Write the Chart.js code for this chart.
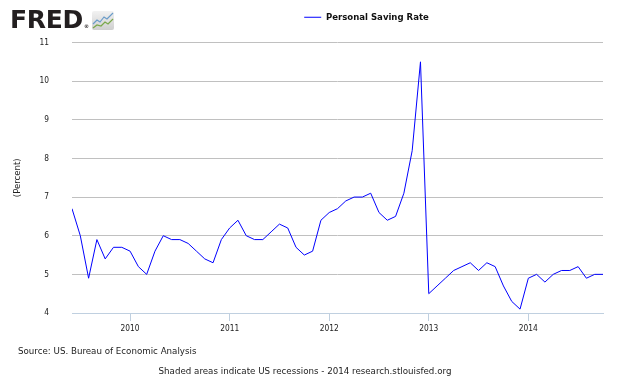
<!DOCTYPE html>
<html>
<head>
<meta charset="utf-8">
<title>Personal Saving Rate</title>
<script src="https://cdn.jsdelivr.net/npm/chart.js@4/dist/chart.umd.min.js"></script>
<style>
  body { margin: 0; background: #fff; }
  #wrap { position: relative; width: 630px; height: 378px; font-family: "DejaVu Sans", sans-serif; }
  #chart { position: absolute; left: 0; top: 0; }
  #logo { position: absolute; left: 10px; top: 5px; font-family: "DejaVu Sans", sans-serif; font-weight: bold; font-size: 25px; color: #231f20; letter-spacing: -0.3px; }
  #logo sup { font-size: 5px; vertical-align: baseline; margin-left: 1px; }
  #icon { position: absolute; left: 92px; top: 11px; }
  #source { position: absolute; left: 18px; top: 346px; font-size: 8.7px; color: #222; }
  #note { position: absolute; left: 0; width: 610px; top: 366px; text-align: center; font-size: 8.7px; color: #222; }
</style>
</head>
<body>
<div id="wrap">
  <canvas id="chart" width="630" height="378"></canvas>
  <div id="logo">FRED<sup>®</sup></div>
  <svg id="icon" width="22" height="19" viewBox="0 0 22 19">
    <defs>
      <linearGradient id="g" x1="0" y1="0" x2="0" y2="1">
        <stop offset="0" stop-color="#f2f2f2"/>
        <stop offset="1" stop-color="#cfcfcf"/>
      </linearGradient>
    </defs>
    <rect x="0" y="0" width="22" height="19" rx="2" fill="url(#g)"/>
    <polyline points="1,13 5,9 8,11 12,6 15,8 21,2" fill="none" stroke="#6a9cc9" stroke-width="1.2"/>
    <polyline points="1,17 5,14 9,15 13,11 16,13 21,8" fill="none" stroke="#7aa84a" stroke-width="1.2"/>
  </svg>
  <div id="source">Source: US. Bureau of Economic Analysis</div>
  <div id="note">Shaded areas indicate US recessions - 2014 research.stlouisfed.org</div>
</div>
<script>
(function() {
  'use strict';
  // 月（2009-06 〜 2014-10）
  const months = [
    '2009-06', '2009-07', '2009-08', '2009-09', '2009-10', '2009-11', '2009-12',
    '2010-01', '2010-02', '2010-03', '2010-04', '2010-05', '2010-06',
    '2010-07', '2010-08', '2010-09', '2010-10', '2010-11', '2010-12',
    '2011-01', '2011-02', '2011-03', '2011-04', '2011-05', '2011-06',
    '2011-07', '2011-08', '2011-09', '2011-10', '2011-11', '2011-12',
    '2012-01', '2012-02', '2012-03', '2012-04', '2012-05', '2012-06',
    '2012-07', '2012-08', '2012-09', '2012-10', '2012-11', '2012-12',
    '2013-01', '2013-02', '2013-03', '2013-04', '2013-05', '2013-06',
    '2013-07', '2013-08', '2013-09', '2013-10', '2013-11', '2013-12',
    '2014-01', '2014-02', '2014-03', '2014-04', '2014-05', '2014-06',
    '2014-07', '2014-08', '2014-09', '2014-10'
  ];
  // 個人貯蓄率 (%)
  const savingRate = [
    6.7, 6.0, 4.9, 5.9, 5.4, 5.7, 5.7,
    5.6, 5.2, 5.0, 5.6, 6.0, 5.9,
    5.9, 5.8, 5.6, 5.4, 5.3, 5.9,
    6.2, 6.4, 6.0, 5.9, 5.9, 6.1,
    6.3, 6.2, 5.7, 5.5, 5.6, 6.4,
    6.6, 6.7, 6.9, 7.0, 7.0, 7.1,
    6.6, 6.4, 6.5, 7.1, 8.2, 10.5,
    4.5, 4.7, 4.9, 5.1, 5.2, 5.3,
    5.1, 5.3, 5.2, 4.7, 4.3, 4.1,
    4.9, 5.0, 4.8, 5.0, 5.1, 5.1,
    5.2, 4.9, 5.0, 5.0
  ];
  // 目盛り
  const yearTicks = [2010, 2011, 2012, 2013, 2014];
  const yTicks = [4, 5, 6, 7, 8, 9, 10, 11];

  // "YYYY-MM" を小数の年に変換
  function toYear(label) {
    const parts = label.split('-');
    return Number(parts[0]) + (Number(parts[1]) - 1) / 12;
  }

  const points = months.map(function(m, i) {
    return { x: toYear(m), y: savingRate[i] };
  });

  const fontFamily = '"DejaVu Sans Condensed", "DejaVu Sans", sans-serif';
  const tickFont = { family: fontFamily, size: 8.3 };

  // 凡例の位置を調整
  const legendShift = {
    id: 'legendShift',
    afterLayout(chart) {
      const lg = chart.legend;
      lg.left += 65;
      lg.right += 65;
      lg.top -= 10.5;
      lg.bottom -= 10.5;
    }
  };

  new Chart(document.getElementById('chart').getContext('2d'), {
    type: 'line',
    data: {
      datasets: [{
        label: 'Personal Saving Rate',
        data: points,
        borderColor: '#0000ff',
        backgroundColor: '#0000ff',
        borderWidth: 1,
        pointRadius: 0,
        tension: 0,
      }],
    },
    options: {
      responsive: false,
      animation: false,
      layout: { padding: { left: 0, right: 27, top: 13, bottom: 35 } },
      plugins: {
        legend: {
          position: 'top',
          labels: {
            usePointStyle: true,
            pointStyle: 'line',
            pointStyleWidth: 17,
            padding: 10,
            color: '#111',
            font: { family: fontFamily, size: 9.5, weight: 'bold' },
          },
        },
        tooltip: { enabled: false },
      },
      scales: {
        x: {
          type: 'linear',
          min: toYear(months[0]),
          max: toYear(months[months.length - 1]),
          afterBuildTicks: function(scale) {
            scale.ticks = yearTicks.map(function(v) { return { value: v }; });
          },
          afterFit: function(scale) { scale.height = 30; },
          grid: { drawOnChartArea: false, drawTicks: true, tickLength: 8, color: '#c0d0e0' },
          border: { color: '#c0d0e0' },
          ticks: { color: '#222', font: tickFont, padding: 3, maxRotation: 0,
            callback: function(v) { return String(v); } },
        },
        y: {
          min: 4,
          max: 11,
          afterBuildTicks: function(scale) {
            scale.ticks = yTicks.map(function(v) { return { value: v }; });
          },
          afterFit: function(scale) { scale.width = 72; },
          grid: { color: '#c0c0c0', drawTicks: false },
          border: { display: false },
          ticks: { color: '#222', font: tickFont, padding: 23 },
          title: { display: true, text: '(Percent)', color: '#222',
            font: { family: fontFamily, size: 9.5 }, padding: { top: 12 } },
        },
      },
    },
    plugins: [legendShift],
  });
})();
</script>
</body>
</html>
